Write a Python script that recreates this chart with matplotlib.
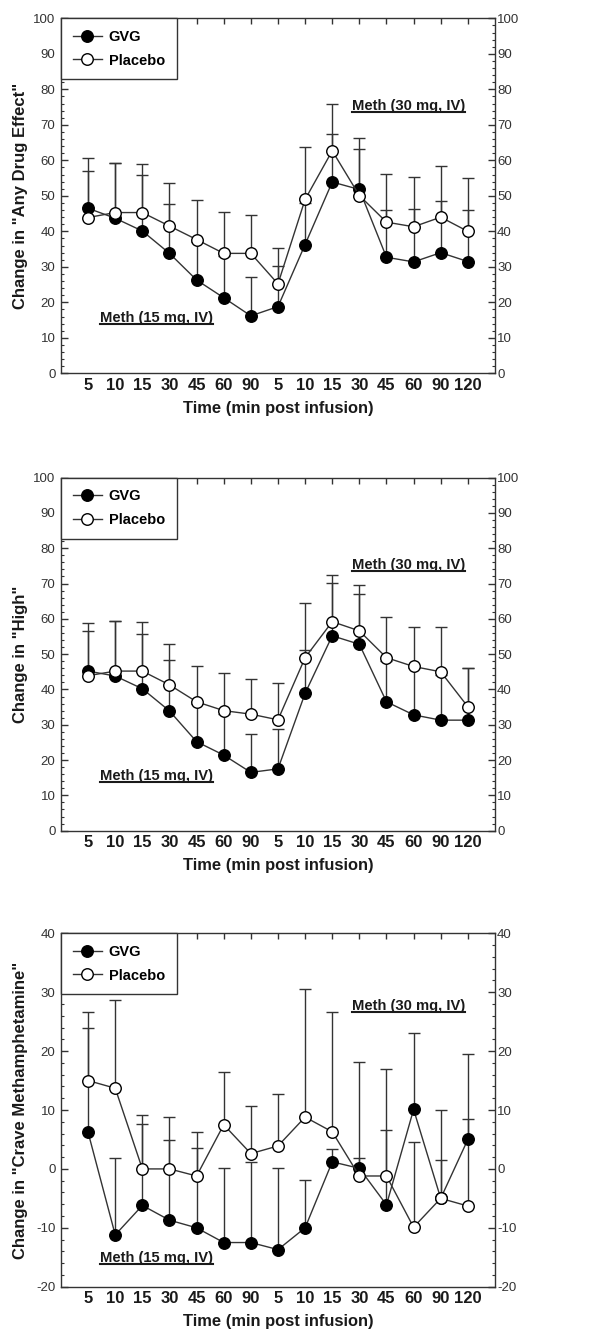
import matplotlib
matplotlib.use("Agg")
import matplotlib.pyplot as plt
from matplotlib.lines import Line2D
from matplotlib.ticker import MultipleLocator
from matplotlib import font_manager

# time points (two infusion sessions)
time_labels = ["5", "10", "15", "30", "45", "60", "90", "5", "10", "15", "30", "45", "60", "90", "120"]
x = list(range(len(time_labels)))

# "Any Drug Effect"
gvg_any = [46.5, 43.7, 40.1, 33.8, 26.3, 21.3, 16.2, 18.8, 36.3, 53.9, 51.8, 32.7, 31.4, 34.0, 31.5]
gvg_any_sem = [10.5, 15.7, 15.7, 13.8, 10.7, 11.7, 11.0, 11.4, 11.7, 13.6, 11.3, 13.3, 14.8, 14.5, 14.5]
plc_any = [43.9, 45.3, 45.3, 41.5, 37.7, 33.8, 33.8, 25.2, 49.0, 62.7, 50.1, 42.6, 41.3, 44.0, 40.0]
plc_any_sem = [16.7, 14.1, 13.7, 12.2, 11.1, 11.6, 10.9, 10.0, 14.8, 13.1, 16.3, 13.5, 14.1, 14.3, 15.0]

# "High"
gvg_high = [45.2, 43.8, 40.2, 33.9, 25.2, 21.4, 16.5, 17.5, 38.9, 55.2, 52.8, 36.5, 32.8, 31.3, 31.3]
gvg_high_sem = [11.4, 15.6, 15.5, 14.5, 10.8, 11.6, 10.9, 11.2, 12.3, 14.9, 14.3, 11.5, 13.2, 12.7, 14.7]
plc_high = [43.9, 45.2, 45.2, 41.3, 36.5, 34.0, 33.0, 31.4, 49.0, 59.2, 56.6, 49.0, 46.5, 45.0, 35.1]
plc_high_sem = [15.0, 14.2, 13.9, 11.6, 10.2, 10.6, 9.9, 10.4, 15.4, 13.1, 13.0, 11.6, 11.3, 12.7, 10.9]

# "Crave Methamphetamine"
gvg_crave = [6.2, -11.2, -6.2, -8.7, -10.0, -12.5, -12.5, -13.7, -10.0, 1.2, 0.1, -6.1, 10.1, -5.0, 5.0]
gvg_crave_sem = [17.8, 13.0, 13.9, 13.6, 13.5, 12.6, 13.7, 13.9, 8.2, 2.2, 1.8, 12.7, 12.9, 6.5, 14.5]
plc_crave = [15.0, 13.7, 0.0, 0.0, -1.2, 7.5, 2.6, 3.9, 8.8, 6.3, -1.2, -1.2, -9.9, -5.0, -6.3]
plc_crave_sem = [11.6, 14.9, 9.2, 8.8, 7.5, 9.0, 8.1, 8.8, 21.7, 20.4, 19.4, 18.1, 14.5, 15.0, 14.8]

panels = [
    ('Change in "Any Drug Effect"', gvg_any, gvg_any_sem, plc_any, plc_any_sem, (0, 100), 10, 0.753, 0.156),
    ('Change in "High"', gvg_high, gvg_high_sem, plc_high, plc_high_sem, (0, 100), 10, 0.753, 0.156),
    ('Change in "Crave Methamphetamine"', gvg_crave, gvg_crave_sem, plc_crave, plc_crave_sem, (-20, 40), 10, 0.795, 0.081),
]

installed = {f.name for f in font_manager.fontManager.ttflist}
FONT = "Liberation Sans"
NARROW = "Liberation Sans Narrow" if "Liberation Sans Narrow" in installed else FONT
nscale = 1.0 if NARROW != FONT else 0.85

plt.rcParams["font.family"] = FONT
plt.rcParams["axes.unicode_minus"] = False

INK = "#333333"

fig = plt.figure(figsize=(6.08, 13.32), dpi=100)
rects = [
    [0.1003, 0.7197, 0.7138, 0.2665],
    [0.1003, 0.3764, 0.7138, 0.2650],
    [0.1003, 0.0340, 0.7138, 0.2653],
]

labels_to_underline = []

for rect, (ylab, g, gs, p, ps, ylim, step, y30, y15) in zip(rects, panels):
    ax = fig.add_axes(rect)
    zeros = [0] * len(x)

    ax.errorbar(x, g, yerr=[zeros, gs], fmt="none", ecolor=INK, elinewidth=1.0,
                capsize=4.2, capthick=1.0, zorder=2)
    ax.errorbar(x, p, yerr=[zeros, ps], fmt="none", ecolor=INK, elinewidth=1.0,
                capsize=4.2, capthick=1.0, zorder=2)
    ax.plot(x, g, "-o", color=INK, lw=1.0, ms=8.3, mfc="black", mec="black",
            mew=1.0, zorder=3, label="GVG")
    ax.plot(x, p, "-o", color=INK, lw=1.0, ms=8.3, mfc="white", mec="black",
            mew=1.0, zorder=4, label="Placebo")

    ax.set_xlim(-1, 15)
    ax.set_ylim(*ylim)
    ax.set_xticks(x)
    ax.set_xticklabels(time_labels, fontsize=12, fontweight="bold", color="#1a1a1a")
    ax.tick_params(axis="x", bottom=False, top=True, direction="in", length=4,
                   width=1, color=INK, pad=3)
    ax.yaxis.set_major_locator(MultipleLocator(step))
    ax.yaxis.set_minor_locator(MultipleLocator(2))
    ax.tick_params(axis="y", which="major", direction="in", length=5, width=1,
                   color=INK, labelsize=9.5, labelcolor=INK, pad=4)
    ax.tick_params(axis="y", which="minor", direction="in", length=2.5, width=0.8, color=INK)
    for sp in ax.spines.values():
        sp.set_color(INK)
        sp.set_linewidth(1.0)

    ax2 = ax.twinx()
    ax2.set_ylim(*ylim)
    ax2.yaxis.set_major_locator(MultipleLocator(step))
    ax2.yaxis.set_minor_locator(MultipleLocator(2))
    ax2.tick_params(axis="y", which="major", direction="in", length=5, width=1,
                    color=INK, labelsize=9.5, labelcolor=INK, pad=1.5)
    ax2.tick_params(axis="y", which="minor", direction="in", length=2.5, width=0.8, color=INK)
    for sp in ax2.spines.values():
        sp.set_visible(False)

    ax.set_xlabel("Time (min post infusion)", fontsize=14 * nscale, fontweight="bold",
                  family=NARROW, color="#1a1a1a", labelpad=6)
    ax.set_ylabel(ylab, fontsize=12, fontweight="bold", color="#1a1a1a")
    ax.yaxis.set_label_coords(-0.077, 0.5)

    leg = ax.legend(loc="upper left", borderaxespad=0, fancybox=False, framealpha=1,
                    edgecolor=INK, handlelength=2.0, handletextpad=0.45,
                    labelspacing=0.65, borderpad=0.8,
                    prop={"family": NARROW, "weight": "bold", "size": 12.4 * nscale})
    leg.get_frame().set_linewidth(1.0)
    leg.set_zorder(10)

    t30 = ax.text(0.80, y30, "Meth (30 mg, IV)", transform=ax.transAxes, ha="center",
                  va="center", fontsize=12.5 * nscale, fontweight="bold", family=NARROW,
                  color="#1a1a1a")
    t15 = ax.text(0.221, y15, "Meth (15 mg, IV)", transform=ax.transAxes, ha="center",
                  va="center", fontsize=12.5 * nscale, fontweight="bold", family=NARROW,
                  color="#1a1a1a")
    labels_to_underline += [t30, t15]

fig.canvas.draw()
renderer = fig.canvas.get_renderer()
inv = fig.transFigure.inverted()
for t in labels_to_underline:
    bb = t.get_window_extent(renderer)
    (x0, y0), (x1, _) = inv.transform([(bb.x0, bb.y0 + 1), (bb.x1, bb.y0 + 1)])
    fig.add_artist(Line2D([x0, x1], [y0, y0], transform=fig.transFigure,
                          color="#1a1a1a", lw=1.5))

fig.savefig("out.png", dpi=100)
